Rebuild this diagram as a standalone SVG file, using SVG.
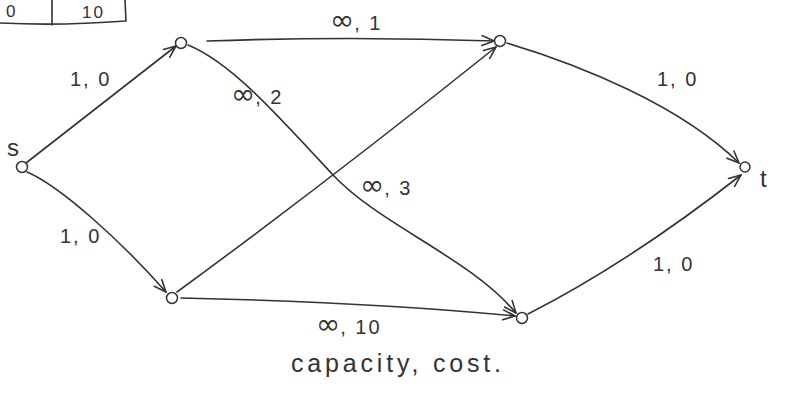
<svg xmlns="http://www.w3.org/2000/svg" width="787" height="397" viewBox="0 0 787 397">
<style>
.e{fill:none;stroke:#333;stroke-width:1.6;stroke-linecap:round}
.n{fill:#fff;stroke:#333;stroke-width:1.5}
.l{font-family:"Liberation Sans",Arial,sans-serif;font-size:20px;fill:#333;letter-spacing:2px}
.i{font-family:"DejaVu Sans",sans-serif;font-size:29px;letter-spacing:0}
.t{font-family:"Liberation Sans",Arial,sans-serif;font-size:25px;fill:#333}
.v{font-family:"Liberation Sans",Arial,sans-serif;font-size:24px;fill:#333}
</style>
<defs>
<marker id="ar" viewBox="0 0 14 12" refX="13" refY="6" markerWidth="14" markerHeight="12" markerUnits="userSpaceOnUse" orient="auto">
<path d="M1,1 L13,6 L1,11" fill="none" stroke="#333" stroke-width="1.6" stroke-linecap="round" stroke-linejoin="round"/>
</marker>
</defs>
<g id="table">
<path class="e" d="M52,0 L52,25 M125,0 L126,21 M0,23 Q60,26 126,21"/>
<text class="l" x="6" y="17" style="font-size:17px">0</text>
<text class="l" x="82" y="18" style="font-size:17px">10</text>
</g>
<g id="connectors">
<path class="e" marker-end="url(#ar)" d="M26,163 L176,46"/>
<path class="e" marker-end="url(#ar)" d="M27,172 C60,186 120,240 166,292"/>
<path class="e" marker-end="url(#ar)" d="M207,41 Q350,36 494,41"/>
<path class="e" marker-end="url(#ar)" d="M188,45 C230,62 275,112 333,175 C380,225 470,258 516,313"/>
<path class="e" marker-end="url(#ar)" d="M177,292 Q330,180 496,47"/>
<path class="e" marker-end="url(#ar)" d="M181,298 Q370,302 515,316"/>
<path class="e" marker-end="url(#ar)" d="M507,43 C580,65 680,105 739,163"/>
<path class="e" marker-end="url(#ar)" d="M528,314 Q630,262 741,175"/>
</g>
<g id="labels">
<text class="l" x="70" y="86">1, 0</text>
<text class="l" x="60" y="243">1, 0</text>
<text class="l" x="330" y="30"><tspan class="i">∞</tspan>, 1</text>
<text class="l" x="231" y="104"><tspan class="i">∞</tspan>, 2</text>
<text class="l" x="360" y="195"><tspan class="i">∞</tspan>, 3</text>
<text class="l" x="316" y="334"><tspan class="i">∞</tspan>, 10</text>
<text class="l" x="657" y="86">1, 0</text>
<text class="l" x="653" y="271">1, 0</text>
<text class="t" x="291" y="372" textLength="210">capacity, cost.</text>
</g>
<g id="node-s"><circle class="n" cx="22" cy="167" r="5.5"/><text class="v" x="7" y="156">s</text></g>
<g id="node-a"><circle class="n" cx="181" cy="43" r="5.5"/></g>
<g id="node-b"><circle class="n" cx="172" cy="298" r="5.5"/></g>
<g id="node-c"><circle class="n" cx="500" cy="41" r="5.5"/></g>
<g id="node-d"><circle class="n" cx="522" cy="318" r="5.5"/></g>
<g id="node-t"><circle class="n" cx="745" cy="167" r="5"/><text class="v" x="760" y="187">t</text></g>
</svg>
